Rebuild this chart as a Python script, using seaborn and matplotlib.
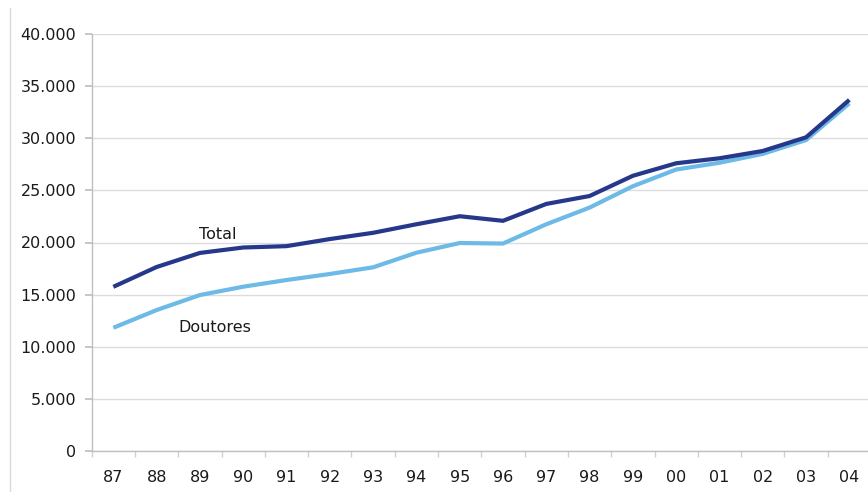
import matplotlib
matplotlib.use("Agg")
import matplotlib.pyplot as plt
import matplotlib.ticker as mticker
from matplotlib.lines import Line2D
import pandas as pd
import seaborn as sns

# Years (two-digit labels) and yearly counts
years = ["87", "88", "89", "90", "91", "92", "93", "94", "95",
         "96", "97", "98", "99", "00", "01", "02", "03", "04"]
total = [15750, 17650, 19000, 19520, 19650, 20330, 20930, 21750, 22520,
         22080, 23700, 24460, 26400, 27600, 28080, 28780, 30090, 33680]
doutores = [11820, 13520, 14960, 15760, 16400, 16980, 17620, 19020, 19950,
            19900, 21750, 23350, 25400, 27000, 27650, 28500, 29830, 33350]
y_ticks = [0, 5000, 10000, 15000, 20000, 25000, 30000, 35000, 40000]

df = pd.DataFrame({
    "ano": list(range(len(years))) * 2,
    "valor": total + doutores,
    "serie": ["Total"] * len(years) + ["Doutores"] * len(years),
})

sns.set_theme(style="white")
plt.rcParams["font.family"] = ["DejaVu Sans"]

fig = plt.figure(figsize=(8.68, 4.92), dpi=100)
ax = fig.add_axes([91.7 / 868, 41 / 492, (871 - 91.7) / 868, 417 / 492])

palette = {"Total": "#25388A", "Doutores": "#6DBAE6"}
sns.lineplot(data=df, x="ano", y="valor", hue="serie", hue_order=["Doutores", "Total"],
             palette=palette, linewidth=3.0, legend=False, ax=ax, zorder=3)
for ln in ax.get_lines():
    ln.set_solid_capstyle("butt")
    ln.set_solid_joinstyle("miter")

ax.set_xlim(-0.5, len(years) - 0.5)
ax.set_ylim(0, 40000)
ax.set_yticks(y_ticks)
ax.yaxis.set_major_formatter(mticker.FuncFormatter(
    lambda v, p: f"{int(v):,}".replace(",", ".")))
ax.set_xticks(range(len(years)))
ax.set_xticklabels(years)
ax.set_xticks([i + 0.5 for i in range(-1, len(years))], minor=True)
ax.set_xlabel("")
ax.set_ylabel("")

ax.grid(axis="y", color="#DCDCDC", linewidth=1.0, zorder=0)
ax.grid(axis="x", visible=False)
for side in ["top", "right"]:
    ax.spines[side].set_visible(False)
for side in ["left", "bottom"]:
    ax.spines[side].set_color("#BFBFBF")
    ax.spines[side].set_linewidth(1.0)

ax.tick_params(axis="y", which="major", left=True, length=5, color="#BFBFBF",
               labelsize=11.5, labelcolor="#1A1A1A", pad=6)
ax.tick_params(axis="x", which="major", bottom=False, labelsize=11.5,
               labelcolor="#1A1A1A", pad=8)
ax.tick_params(axis="x", which="minor", bottom=True, length=4, color="#D0D0D0")

ax.text(2.4, 20800, "Total", fontsize=11.5, color="#1A1A1A", ha="center", va="center")
ax.text(2.35, 11800, "Doutores", fontsize=11.5, color="#1A1A1A", ha="center", va="center")

# thin frame line along the left edge of the figure
fig.add_artist(Line2D([9.5 / 868, 9.5 / 868], [0, 1 - 8 / 492],
                      transform=fig.transFigure, color="#D9D9D9", linewidth=1.0))

fig.savefig("out.png", dpi=100)
